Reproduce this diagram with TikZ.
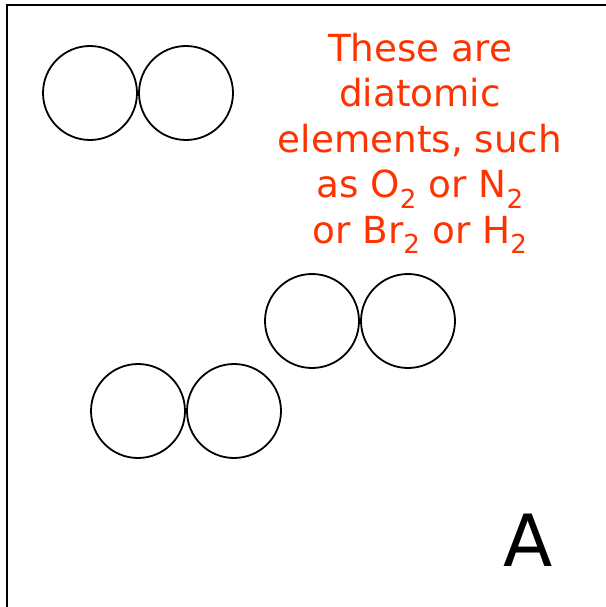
\documentclass[tikz,border=0pt]{standalone}
\usepackage{fontspec}
\setmainfont{DejaVu Sans}
\usepackage{tikz}

\definecolor{notered}{RGB}{255,51,0}

\tikzset{
  atom/.style={draw,circle,line width=1.8pt,minimum size=94pt,inner sep=0pt},
}

\begin{document}
\begin{tikzpicture}[x=1pt,y=-1pt]
    \useasboundingbox (0,0) rectangle (605,607);
    % open frame
    \draw[line width=2pt] (7,612) -- (7,5) -- (612,5);

    % diatomic molecules
    \node[atom] (a1) at (90,93) {};
    \node[atom] (a2) at (186,93) {};
    \node[atom] (b1) at (312,321) {};
    \node[atom] (b2) at (408,321) {};
    \node[atom] (c1) at (138,411) {};
    \node[atom] (c2) at (234,411) {};

    % label
    \node[text=notered,align=center,inner sep=0pt,anchor=base,
          font=\fontsize{37.3}{45.5}\selectfont] (note) at (420,243)
          {These are\\diatomic\\elements, such\\as O\textsubscript{2} or N\textsubscript{2}\\or Br\textsubscript{2} or H\textsubscript{2}};
    \node[inner sep=0pt,anchor=base,font=\fontsize{72}{80}\selectfont] (tag) at (528,566) {A};
\end{tikzpicture}
\end{document}
